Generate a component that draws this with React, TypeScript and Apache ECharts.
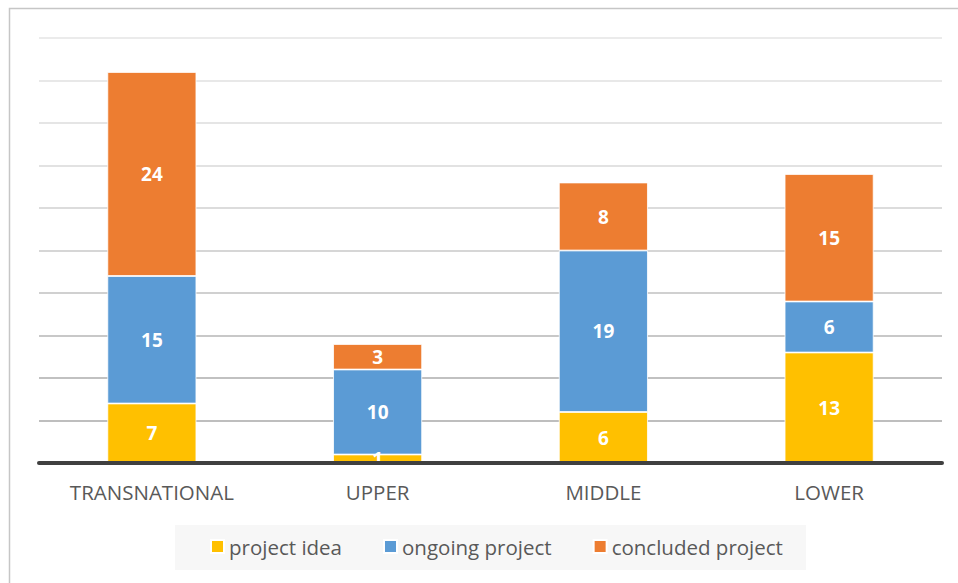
import React, { useEffect, useRef } from "react";
import * as echarts from "echarts";

const categories = ["TRANSNATIONAL", "UPPER", "MIDDLE", "LOWER"];
const projectIdea = [7, 1, 6, 13];
const ongoingProject = [15, 10, 19, 6];
const concludedProject = [24, 3, 8, 15];
const seriesNames = ["project idea", "ongoing project", "concluded project"];
const seriesColors = ["#FFC000", "#5B9BD5", "#ED7D31"];

// gridline shades, from the baseline upward
const gridShades = [
  "#a6a6a6", "#a8a8a8", "#acacac", "#b6b6b6", "#c0c0c0",
  "#c8c8c8", "#d0d0d0", "#d8d8d8", "#dcdcdc", "#e0e0e0", "#e4e4e4",
];

const FONT = "'Open Sans', Lato, sans-serif";

export default function App() {
  const ref = useRef<HTMLDivElement>(null);

  useEffect(() => {
    if (!ref.current) return;
    const chart = echarts.init(ref.current, undefined, { renderer: "svg" });
    const values = [projectIdea, ongoingProject, concludedProject];

    chart.setOption({
      animation: false,
      backgroundColor: "#ffffff",
      textStyle: { fontFamily: FONT },
      graphic: [
        {
          type: "rect",
          z: -10,
          shape: { x: 9.5, y: 8.5, width: 980, height: 620 },
          style: { fill: "none", stroke: "#c6c6c6", lineWidth: 1.5 },
          silent: true,
        },
        {
          type: "rect",
          z: -5,
          shape: { x: 175, y: 525, width: 631, height: 45 },
          style: { fill: "#f7f7f7", stroke: "none" },
          silent: true,
        },
      ],
      grid: { left: 39, right: 16, top: 38, bottom: 120, containLabel: false },
      legend: {
        data: seriesNames,
        left: 205,
        top: 531,
        icon: "rect",
        itemWidth: 13,
        itemHeight: 13,
        itemGap: 41,
        textStyle: { fontSize: 20.5, color: "#595959", fontFamily: FONT },
      },
      xAxis: {
        type: "category",
        data: categories,
        axisTick: { show: false },
        axisLine: { show: true, lineStyle: { color: "#404040", width: 4 } },
        axisLabel: { fontSize: 20.5, color: "#595959", margin: 18, fontFamily: FONT },
        z: 5,
      },
      yAxis: {
        type: "value",
        min: 0,
        max: 50,
        interval: 5,
        axisLabel: { show: false },
        axisLine: { show: false },
        axisTick: { show: false },
        splitLine: { show: true, lineStyle: { color: gridShades, width: 1.5 } },
      },
      series: values.map((data, i) => ({
        name: seriesNames[i],
        type: "bar",
        stack: "total",
        data,
        barWidth: 89,
        itemStyle: { color: seriesColors[i], borderColor: "#ffffff", borderWidth: 0.8 },
        label: {
          show: true,
          position: "inside",
          color: "#ffffff",
          fontWeight: "bold",
          fontSize: 19,
          fontFamily: FONT,
        },
        z: 2,
      })),
    });

    return () => chart.dispose();
  }, []);

  return (
    <div
      ref={ref}
      style={{ position: "fixed", left: 0, top: 0, width: 958, height: 583 }}
    />
  );
}
